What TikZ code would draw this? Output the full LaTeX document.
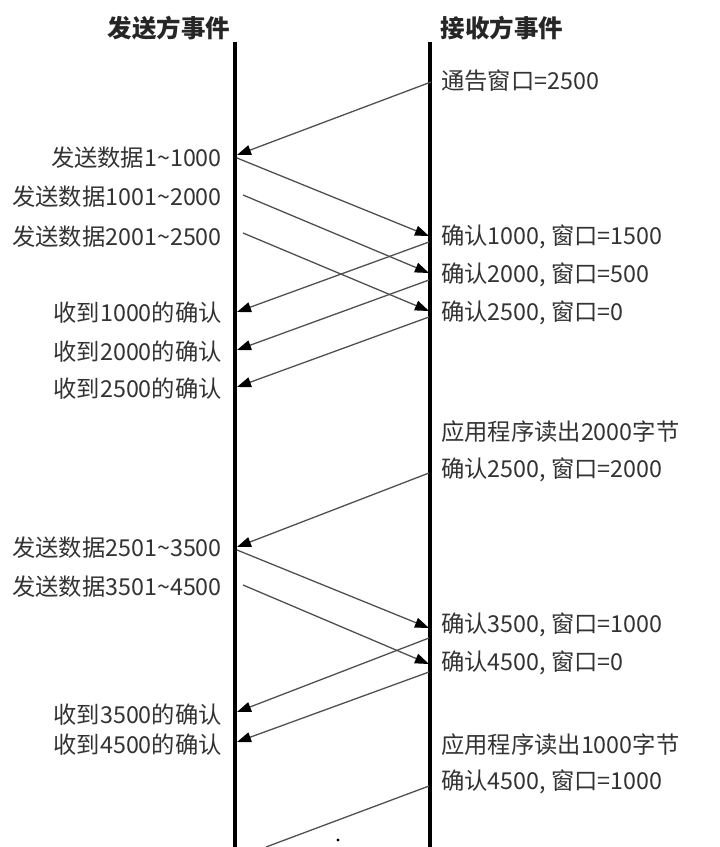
\documentclass[tikz,border=0pt]{standalone}
\usepackage{fontspec}
\setmainfont{Noto Sans CJK SC}
\usetikzlibrary{arrows.meta}
\definecolor{txt}{HTML}{333333}
\definecolor{arr}{HTML}{505050}
\tikzset{
  lifeline/.style={line width=4pt,black},
  msg/.style={arr,line width=1.3pt,-{Triangle[length=14pt,width=10pt,color=black]}},
  plain/.style={arr,line width=1.3pt},
  llab/.style={anchor=east,inner sep=0pt,text=txt,font=\fontsize{23.3}{25}\selectfont},
  rlab/.style={anchor=west,inner sep=0pt,text=txt,font=\fontsize{23.3}{25}\selectfont},
  head/.style={inner sep=0pt,text=black!85,font=\fontsize{24.5}{26}\selectfont\bfseries}
}
\begin{document}
\begin{tikzpicture}[x=1pt,y=-1pt]
\useasboundingbox (0,0) rectangle (720,847);
\fill[white] (0,0) rectangle (720,847);
% headers
\node[head] (hs) at (169,28) {发送方事件};
\node[head] (hr) at (502,28) {接收方事件};
% lifelines
\coordinate (lt) at (235,42);
\coordinate (lb) at (235,847);
\coordinate (rt) at (430,42);
\coordinate (rb) at (430,847);
\draw[lifeline] (lt) -- (lb);
\draw[lifeline] (rt) -- (rb);
% left labels
\node[llab] (l1) at (222,158) {发送数据1\textasciitilde1000};
\node[llab] (l2) at (222,197) {发送数据1001\textasciitilde2000};
\node[llab] (l3) at (222,237) {发送数据2001\textasciitilde2500};
\node[llab] (l4) at (222,313) {收到1000的确认};
\node[llab] (l5) at (222,352) {收到2000的确认};
\node[llab] (l6) at (222,389) {收到2500的确认};
\node[llab] (l7) at (222,548) {发送数据2501\textasciitilde3500};
\node[llab] (l8) at (222,587) {发送数据3501\textasciitilde4500};
\node[llab] (l9) at (222,715) {收到3500的确认};
\node[llab] (l10) at (222,745) {收到4500的确认};
% right labels
\node[rlab] (r1) at (441,81) {通告窗口=2500};
\node[rlab] (r2) at (441,237) {确认1000, 窗口=1500};
\node[rlab] (r3) at (441,275) {确认2000, 窗口=500};
\node[rlab] (r4) at (441,313) {确认2500, 窗口=0};
\node[rlab] (r5) at (441,432) {应用程序读出2000字节};
\node[rlab] (r6) at (441,470) {确认2500, 窗口=2000};
\node[rlab] (r7) at (441,625) {确认3500, 窗口=1000};
\node[rlab] (r8) at (441,663) {确认4500, 窗口=0};
\node[rlab] (r9) at (441,745) {应用程序读出1000字节};
\node[rlab] (r10) at (441,782) {确认4500, 窗口=1000};
% message end points
\coordinate (a0s) at (431,82);  \coordinate (a0e) at (237,155);
\coordinate (a1s) at (237,158); \coordinate (a1e) at (429,236);
\coordinate (a2s) at (243,195); \coordinate (a2e) at (429,273);
\coordinate (a3s) at (243,233); \coordinate (a3e) at (429,311);
\coordinate (a4s) at (429,242); \coordinate (a4e) at (237,312);
\coordinate (a5s) at (429,280); \coordinate (a5e) at (237,350);
\coordinate (a6s) at (429,317); \coordinate (a6e) at (237,387);
\coordinate (a7s) at (429,473); \coordinate (a7e) at (237,547);
\coordinate (a8s) at (237,550); \coordinate (a8e) at (429,628);
\coordinate (a9s) at (243,585); \coordinate (a9e) at (429,664);
\coordinate (a10s) at (429,638); \coordinate (a10e) at (237,712);
\coordinate (a11s) at (429,672); \coordinate (a11e) at (237,742);
\coordinate (a12s) at (429,786); \coordinate (a12e) at (266,847);
\draw[msg] (a0s) -- (a0e);
\draw[msg] (a1s) -- (a1e);
\draw[msg] (a2s) -- (a2e);
\draw[msg] (a3s) -- (a3e);
\draw[msg] (a4s) -- (a4e);
\draw[msg] (a5s) -- (a5e);
\draw[msg] (a6s) -- (a6e);
\draw[msg] (a7s) -- (a7e);
\draw[msg] (a8s) -- (a8e);
\draw[msg] (a9s) -- (a9e);
\draw[msg] (a10s) -- (a10e);
\draw[msg] (a11s) -- (a11e);
\draw[plain] (a12s) -- (a12e);
% dot
\fill[black] (338,840) circle (1.6);
\end{tikzpicture}
\end{document}
